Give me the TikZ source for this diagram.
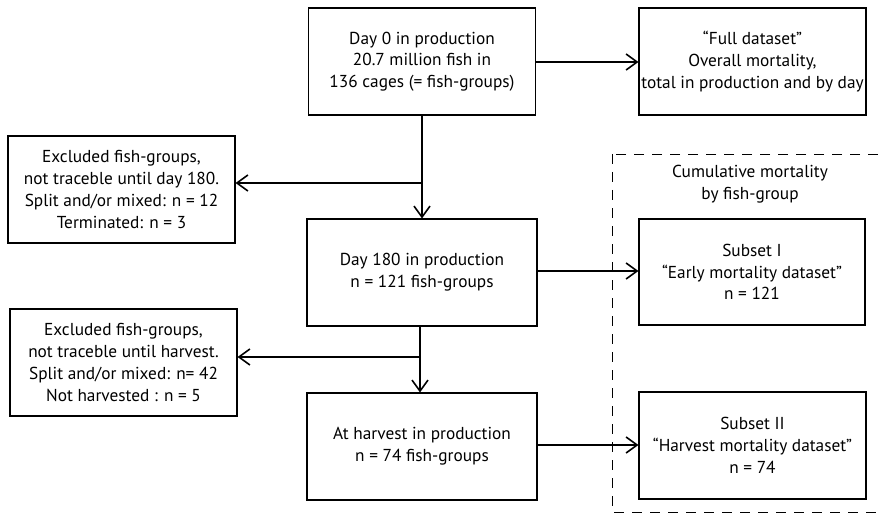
\documentclass[tikz,border=0pt]{standalone}
\usepackage{fontspec}
\setmainfont{PT Sans}
\usetikzlibrary{arrows.meta}
\begin{document}
\begin{tikzpicture}[x=1pt,y=-1pt,
  box/.style={draw, line width=1.1pt, align=center, inner sep=0pt, font=\fontsize{17.3}{21.7}\selectfont},
  lbl/.style={align=center, font=\fontsize{17.3}{21.7}\selectfont},
  conn/.style={line width=1.8pt},
  arr/.style={conn, -{Straight Barb[length=11pt,width=16pt,line width=1.6pt]}}]
\useasboundingbox (0,0) rectangle (880,513);
\begin{scope}
\clip (0,0) rectangle (880,513);
\draw[line width=0.9pt, dash pattern=on 10pt off 8pt] (612,154) rectangle (900,512);
\end{scope}
\node[box, minimum width=227pt, minimum height=107pt] (d0) at (422,61.5) {Day 0 in production\\20.7 million fish in\\136 cages (= fish-groups)};
\node[box, minimum width=227pt, minimum height=107pt] (full) at (752.5,61.5) {“Full dataset”\\Overall mortality,\\total in production and by day};
\node[box, minimum width=227pt, minimum height=107pt] (ex1) at (121.5,189.5) {Excluded fish-groups,\\not traceble until day 180.\\Split and/or mixed: n = 12\\Terminated: n = 3};
\node[box, minimum width=230pt, minimum height=107pt] (d180) at (422,272.5) {Day 180 in production\\n = 121 fish-groups};
\node[lbl] (cum) at (750,184) {Cumulative mortality\\by fish-group};
\node[box, minimum width=226pt, minimum height=106pt] (s1) at (752,272) {Subset I\\“Early mortality dataset”\\n = 121};
\node[box, minimum width=227pt, minimum height=107pt] (ex2) at (123.5,362.5) {Excluded fish-groups,\\not traceble until harvest.\\Split and/or mixed: n= 42\\Not harvested : n = 5};
\node[box, minimum width=230pt, minimum height=107pt] (hv) at (422,446.5) {At harvest in production\\n = 74 fish-groups};
\node[box, minimum width=227pt, minimum height=107pt] (s2) at (752.5,445.5) {Subset II\\“Harvest mortality dataset”\\n = 74};
\coordinate (b1) at (422,183);
\coordinate (b2) at (420,357);
\draw[arr] (d0.east |- 0,62) -- (full.west |- 0,62);
\draw[arr] (d0.south) -- (d180.north);
\draw[arr] (b1) -- (ex1.east |- b1);
\draw[arr] (d180.east |- 0,271) -- (s1.west |- 0,271);
\draw[arr] (d180.south -| b2) -- (hv.north -| b2);
\draw[arr] (b2) -- (ex2.east |- b2);
\draw[arr] (hv.east |- 0,445) -- (s2.west |- 0,445);
\end{tikzpicture}
\end{document}
